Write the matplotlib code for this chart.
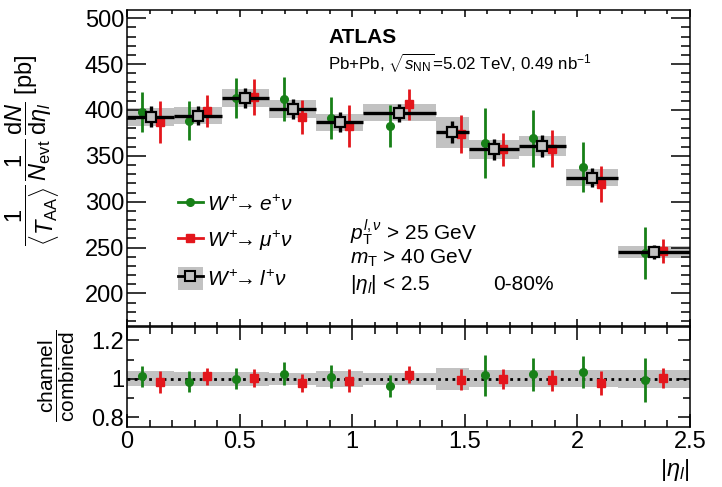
import numpy as np
import matplotlib
matplotlib.use("Agg")
import matplotlib.pyplot as plt
from matplotlib.lines import Line2D
from matplotlib.patches import Patch
from matplotlib.ticker import MultipleLocator, FixedLocator

plt.rcParams['font.family'] = ['Liberation Sans', 'DejaVu Sans']
plt.rcParams['mathtext.fontset'] = 'custom'
plt.rcParams['mathtext.rm'] = 'Liberation Sans'
plt.rcParams['mathtext.it'] = 'Liberation Sans:italic'
plt.rcParams['mathtext.bf'] = 'Liberation Sans:bold'

# ---------------- data ----------------
bin_edges = [0.0, 0.21, 0.42, 0.63, 0.84, 1.05, 1.37, 1.52, 1.74, 1.95, 2.18, 2.5]
comb_val = [392.5, 393.8, 412.8, 401.0, 386.6, 397.0, 375.6, 357.0, 360.7, 326.2, 244.8]
comb_err = [11.5, 10.5, 11.0, 11.0, 11.0, 10.0, 12.0, 11.5, 12.0, 10.5, 7.5]
comb_sys = [10.0, 9.5, 10.0, 9.5, 9.0, 9.0, 17.0, 10.5, 11.0, 9.5, 6.5]
ratio_band = [0.039, 0.036, 0.035, 0.033, 0.040, 0.031, 0.059, 0.044, 0.044, 0.044, 0.048]
e_val = [397.5, 388.3, 413.4, 412.0, 391.0, 382.5, np.nan, 363.7, 369.0, 338.0, 244.0]
e_err = [22.0, 21.0, 22.0, 24.5, 23.0, 23.0, np.nan, 38.0, 31.5, 27.0, 28.0]
mu_val = [386.6, 398.9, 414.5, 392.7, 382.9, 406.0, 373.8, 357.0, 358.0, 319.3, 246.0]
mu_err = [23.0, 17.5, 19.6, 18.5, 23.0, 17.0, 20.5, 18.0, 19.7, 19.6, 13.0]

x_ticks = [0, 0.5, 1, 1.5, 2, 2.5]
x_ticklabels = ['0', '0.5', '1', '1.5', '2', '2.5']
main_yticks = [200, 250, 300, 350, 400, 450, 500]
ratio_yticks = [0.8, 1.0, 1.2]
ratio_yticklabels = ['0.8', '1', '1.2']

green = '#178017'
red = '#e3161c'
gray = '#c2c2c2'

edges = np.array(bin_edges)
centers = 0.5 * (edges[1:] + edges[:-1])
widths = edges[1:] - edges[:-1]
comb = np.array(comb_val)
csys = np.array(comb_sys)
cerr = np.array(comb_err)
ev = np.array(e_val); ee = np.array(e_err)
mv = np.array(mu_val); me = np.array(mu_err)
off = 0.04

W, H = 722, 487
fig = plt.figure(figsize=(W / 100, H / 100), dpi=100)
L, R = 127 / W, 690 / W
ax = fig.add_axes([L, 1 - 326 / H, R - L, (326 - 10) / H])
axr = fig.add_axes([L, 1 - 427 / H, R - L, (427 - 327) / H])

# ---------------- main panel ----------------
ax.bar(centers, 2 * csys, bottom=comb - csys, width=widths, color=gray, linewidth=0, zorder=1)
ax.errorbar(centers - off, ev, yerr=ee, fmt='o', color=green, ms=5.5, elinewidth=2.0,
            capsize=0, zorder=3)
ax.errorbar(centers + off, mv, yerr=me, fmt='s', color=red, ms=5.5, elinewidth=2.0,
            capsize=0, zorder=3)
ax.errorbar(centers, comb, xerr=widths / 2, yerr=cerr, fmt='s', color='black', ms=6.5,
            mfc=gray, mec='black', mew=1.6, elinewidth=2.4, capsize=0, zorder=4)

ax.set_xlim(0, 2.5)
ax.set_ylim(164.5, 509)
ax.yaxis.set_major_locator(FixedLocator(main_yticks))
ax.yaxis.set_minor_locator(MultipleLocator(10))
ax.xaxis.set_major_locator(MultipleLocator(0.5))
ax.xaxis.set_minor_locator(MultipleLocator(0.1))
ax.tick_params(axis='x', which='both', labelbottom=False)
ax.tick_params(axis='both', which='both', direction='in', top=True, right=True, width=1.1)
ax.tick_params(axis='y', which='major', length=14, labelsize=17, pad=2)
ax.tick_params(axis='y', which='minor', length=6.5)
ax.tick_params(axis='x', which='major', length=5)
ax.tick_params(axis='x', which='minor', length=3)
for s in ax.spines.values():
    s.set_linewidth(1.1)

# legend
h_e = Line2D([], [], color=green, marker='o', ms=5.5, lw=2.0)
h_m = Line2D([], [], color=red, marker='s', ms=5.5, lw=2.0)
h_c = (Patch(facecolor=gray, edgecolor='none'),
       Line2D([], [], color='black', marker='s', ms=6.5, mfc=gray, mec='black', mew=1.5, lw=2.0))
leg = ax.legend([h_e, h_m, h_c],
                [r'$W^{+}\!\!\rightarrow e^{+}\nu$', r'$W^{+}\!\!\rightarrow \mu^{+}\nu$',
                 r'$W^{+}\!\!\rightarrow l^{+}\nu$'],
                loc='upper left', bbox_to_anchor=(0.083, 0.435), frameon=False, fontsize=15,
                handlelength=1.2, handleheight=1.3, handletextpad=0.2, labelspacing=0.66,
                borderpad=0.2, borderaxespad=0.0)

ax.text(0.357, 0.912, 'ATLAS', transform=ax.transAxes, fontsize=15, fontweight='bold',
        va='center', ha='left')
ax.text(0.357, 0.830, r'Pb+Pb, $\sqrt{s_{\rm NN}}$=5.02 TeV, 0.49 nb$^{-1}$',
        transform=ax.transAxes, fontsize=12.2, va='center', ha='left')
ax.text(0.396, 0.294, r'$p_{\rm T}^{l,\nu}$ > 25 GeV', transform=ax.transAxes, fontsize=15,
        va='center', ha='left')
ax.text(0.396, 0.215, r'$m_{\rm T}$ > 40 GeV', transform=ax.transAxes, fontsize=15,
        va='center', ha='left')
ax.text(0.396, 0.130, r'$|\eta_{l}|$ < 2.5', transform=ax.transAxes, fontsize=15,
        va='center', ha='left')
ax.text(0.650, 0.130, '0-80%', transform=ax.transAxes, fontsize=15, va='center', ha='left')

fig.text(33 / W, 1 - 150 / H,
         r'$\dfrac{1}{\langle T_{\rm AA}\rangle}\,\dfrac{1}{N_{\rm evt}}\,\dfrac{{\rm d}N}{{\rm d}\eta_{l}}$ [pb]',
         rotation=90, fontsize=17, ha='center', va='center')

# ---------------- ratio panel ----------------
rb = np.array(ratio_band)
axr.bar(centers, 2 * rb, bottom=1 - rb, width=widths, color=gray, linewidth=0, zorder=1)
axr.axhline(1.0, color='black', lw=2.0, ls=(0, (1, 1.6)), zorder=2)
axr.errorbar(centers - off, ev / comb, yerr=ee / comb, fmt='o', color=green, ms=5.5,
             elinewidth=2.0, capsize=0, zorder=3)
axr.errorbar(centers + off, mv / comb, yerr=me / comb, fmt='s', color=red, ms=5.5,
             elinewidth=2.0, capsize=0, zorder=3)
axr.set_xlim(0, 2.5)
axr.set_ylim(0.75, 1.27)
axr.set_xticks(x_ticks)
axr.set_xticklabels(x_ticklabels)
axr.xaxis.set_minor_locator(MultipleLocator(0.1))
axr.set_yticks(ratio_yticks)
axr.set_yticklabels(ratio_yticklabels)
axr.yaxis.set_minor_locator(MultipleLocator(0.1))
axr.tick_params(axis='both', which='both', direction='in', top=True, right=True, width=1.1,
                labelsize=17)
axr.tick_params(axis='x', which='major', length=9.5, pad=3)
axr.tick_params(axis='x', which='minor', length=5)
axr.tick_params(axis='y', which='major', length=8.6, pad=2)
axr.tick_params(axis='y', which='minor', length=5)
for s in axr.spines.values():
    s.set_linewidth(1.1)

axr.text(1.0, -0.43, r'$|\eta_{l}|$', transform=axr.transAxes, fontsize=17, ha='right',
         va='center')
fig.text(57 / W, 1 - 376 / H, r'$\dfrac{\rm channel}{\rm combined}$', rotation=90, fontsize=15,
         ha='center', va='center')

fig.savefig('out.png', dpi=100)
